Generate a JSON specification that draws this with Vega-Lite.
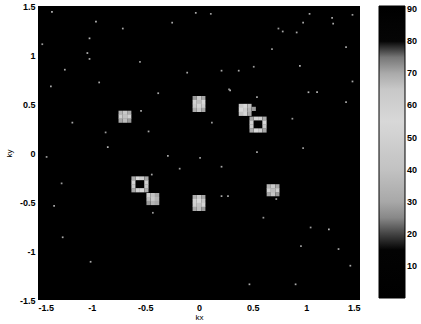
{
  "$schema": "https://vega.github.io/schema/vega-lite/v6.json",
  "width": 322,
  "height": 294,
  "autosize": {"type": "none"},
  "padding": {"left": 38, "top": 6, "right": 61, "bottom": 24},
  "background": "white",
  "config": {
    "view": {"fill": "black", "stroke": null},
    "locale": {"number": {"decimal": ".", "thousands": ",", "grouping": [3], "currency": ["$", ""], "minus": "-"}},
    "axis": {"grid": false, "ticks": false, "domain": false, "labelFont": "Liberation Sans", "labelFontWeight": "bold", "labelFontSize": 9, "labelColor": "black", "titleFont": "Liberation Sans", "titleFontSize": 8, "titleFontWeight": "normal", "titleColor": "black"},
    "legend": {"labelFont": "Liberation Sans", "labelFontWeight": "bold", "labelFontSize": 9, "labelColor": "black"}
  },
  "datasets": {
    "peaks": [
      {"x": -0.04, "y": 0.56, "v": 28}, {"x": 0, "y": 0.56, "v": 45}, {"x": 0.04, "y": 0.56, "v": 30},
      {"x": -0.04, "y": 0.52, "v": 50}, {"x": 0, "y": 0.52, "v": 38}, {"x": 0.04, "y": 0.52, "v": 55},
      {"x": -0.04, "y": 0.48, "v": 45}, {"x": 0, "y": 0.48, "v": 52}, {"x": 0.04, "y": 0.48, "v": 48},
      {"x": -0.04, "y": 0.44, "v": 32}, {"x": 0, "y": 0.44, "v": 42}, {"x": 0.04, "y": 0.44, "v": 30},
      {"x": -0.73, "y": 0.41, "v": 35}, {"x": -0.69, "y": 0.41, "v": 45}, {"x": -0.65, "y": 0.41, "v": 32},
      {"x": -0.73, "y": 0.37, "v": 48}, {"x": -0.69, "y": 0.37, "v": 40}, {"x": -0.65, "y": 0.37, "v": 50},
      {"x": -0.73, "y": 0.33, "v": 30}, {"x": -0.69, "y": 0.33, "v": 38}, {"x": -0.65, "y": 0.33, "v": 28},
      {"x": 0.39, "y": 0.48, "v": 45}, {"x": 0.43, "y": 0.48, "v": 55}, {"x": 0.47, "y": 0.48, "v": 40},
      {"x": 0.39, "y": 0.44, "v": 55}, {"x": 0.43, "y": 0.44, "v": 48}, {"x": 0.47, "y": 0.44, "v": 35},
      {"x": 0.39, "y": 0.40, "v": 40}, {"x": 0.43, "y": 0.40, "v": 52}, {"x": 0.47, "y": 0.40, "v": 30},
      {"x": 0.51, "y": 0.45, "v": 28},
      {"x": 0.49, "y": 0.35, "v": 30}, {"x": 0.49, "y": 0.31, "v": 50}, {"x": 0.49, "y": 0.27, "v": 48}, {"x": 0.49, "y": 0.23, "v": 32},
      {"x": 0.53, "y": 0.35, "v": 52}, {"x": 0.53, "y": 0.31, "v": 86}, {"x": 0.53, "y": 0.27, "v": 84}, {"x": 0.53, "y": 0.23, "v": 55},
      {"x": 0.57, "y": 0.35, "v": 50}, {"x": 0.57, "y": 0.31, "v": 85}, {"x": 0.57, "y": 0.27, "v": 87}, {"x": 0.57, "y": 0.23, "v": 48},
      {"x": 0.61, "y": 0.35, "v": 32}, {"x": 0.61, "y": 0.31, "v": 55}, {"x": 0.61, "y": 0.27, "v": 45}, {"x": 0.61, "y": 0.23, "v": 30},
      {"x": -0.61, "y": -0.26, "v": 32}, {"x": -0.61, "y": -0.30, "v": 52}, {"x": -0.61, "y": -0.34, "v": 46}, {"x": -0.61, "y": -0.38, "v": 30},
      {"x": -0.57, "y": -0.26, "v": 55}, {"x": -0.57, "y": -0.30, "v": 86}, {"x": -0.57, "y": -0.34, "v": 85}, {"x": -0.57, "y": -0.38, "v": 50},
      {"x": -0.53, "y": -0.26, "v": 48}, {"x": -0.53, "y": -0.30, "v": 87}, {"x": -0.53, "y": -0.34, "v": 84}, {"x": -0.53, "y": -0.38, "v": 55},
      {"x": -0.49, "y": -0.26, "v": 30}, {"x": -0.49, "y": -0.30, "v": 50}, {"x": -0.49, "y": -0.34, "v": 45}, {"x": -0.49, "y": -0.38, "v": 32},
      {"x": -0.47, "y": -0.43, "v": 60}, {"x": -0.43, "y": -0.43, "v": 40}, {"x": -0.39, "y": -0.43, "v": 30},
      {"x": -0.47, "y": -0.47, "v": 38}, {"x": -0.43, "y": -0.47, "v": 45}, {"x": -0.39, "y": -0.47, "v": 35},
      {"x": -0.47, "y": -0.51, "v": 28}, {"x": -0.43, "y": -0.51, "v": 35}, {"x": -0.39, "y": -0.51, "v": 30},
      {"x": -0.04, "y": -0.45, "v": 32}, {"x": 0, "y": -0.45, "v": 45}, {"x": 0.04, "y": -0.45, "v": 30},
      {"x": -0.04, "y": -0.49, "v": 50}, {"x": 0, "y": -0.49, "v": 55}, {"x": 0.04, "y": -0.49, "v": 45},
      {"x": -0.04, "y": -0.53, "v": 48}, {"x": 0, "y": -0.53, "v": 40}, {"x": 0.04, "y": -0.53, "v": 52},
      {"x": -0.04, "y": -0.57, "v": 30}, {"x": 0, "y": -0.57, "v": 38}, {"x": 0.04, "y": -0.57, "v": 28},
      {"x": 0.65, "y": -0.34, "v": 35}, {"x": 0.69, "y": -0.34, "v": 45}, {"x": 0.73, "y": -0.34, "v": 30},
      {"x": 0.65, "y": -0.38, "v": 50}, {"x": 0.69, "y": -0.38, "v": 38}, {"x": 0.73, "y": -0.38, "v": 48},
      {"x": 0.65, "y": -0.42, "v": 30}, {"x": 0.69, "y": -0.42, "v": 42}, {"x": 0.73, "y": -0.42, "v": 28}
    ],
    "noise": [
      {"x": -1.37, "y": 1.44, "v": 35}, {"x": -0.96, "y": 1.34, "v": 35}, {"x": -0.71, "y": 1.27, "v": 30}, {"x": -1.02, "y": 1.17, "v": 35},
      {"x": -1.46, "y": 1.11, "v": 28}, {"x": -1.04, "y": 1.02, "v": 35}, {"x": -1.02, "y": 0.96, "v": 30}, {"x": -1.25, "y": 0.85, "v": 30},
      {"x": -0.93, "y": 0.72, "v": 30}, {"x": -1.38, "y": 0.68, "v": 30}, {"x": -1.27, "y": -0.86, "v": 30}, {"x": -1.01, "y": -1.11, "v": 30},
      {"x": 1.41, "y": -1.15, "v": 30}, {"x": 0.47, "y": -1.34, "v": 30}, {"x": 0.90, "y": -1.34, "v": 30},
      {"x": -0.38, "y": 0.61, "v": 30}, {"x": 0.29, "y": 0.64, "v": 35}, {"x": 0.54, "y": 0.57, "v": 30}, {"x": -0.54, "y": 0.43, "v": 30},
      {"x": -0.87, "y": 0.21, "v": 28}, {"x": -0.47, "y": 0.22, "v": 30}, {"x": -0.85, "y": 0.06, "v": 35}, {"x": 0.12, "y": 0.31, "v": 28},
      {"x": 0.87, "y": 0.35, "v": 28}, {"x": -0.29, "y": -0.03, "v": 30}, {"x": 0.01, "y": -0.05, "v": 28}, {"x": -0.18, "y": -0.16, "v": 28},
      {"x": 0.21, "y": -0.14, "v": 30}, {"x": 0.54, "y": 0.01, "v": 30}, {"x": 0.21, "y": -0.44, "v": 30}, {"x": 0.27, "y": -0.44, "v": 30},
      {"x": -0.44, "y": -0.22, "v": 30}, {"x": -0.43, "y": -0.61, "v": 28}, {"x": 0.60, "y": -0.66, "v": 28}, {"x": 0.72, "y": -0.47, "v": 28},
      {"x": -0.03, "y": 1.43, "v": 30}, {"x": 0.11, "y": 1.42, "v": 28}, {"x": -0.25, "y": 1.33, "v": 30}, {"x": 1.03, "y": 1.42, "v": 30},
      {"x": 1.24, "y": 1.38, "v": 30}, {"x": 1.25, "y": 1.32, "v": 30}, {"x": 0.97, "y": 1.33, "v": 30}, {"x": 1.43, "y": 1.41, "v": 28},
      {"x": 0.74, "y": 1.27, "v": 28}, {"x": 0.78, "y": 1.24, "v": 30}, {"x": 0.91, "y": 1.23, "v": 30}, {"x": 0.68, "y": 1.06, "v": 28},
      {"x": 1.37, "y": 1.08, "v": 30}, {"x": -0.55, "y": 0.93, "v": 28}, {"x": -0.11, "y": 0.82, "v": 30}, {"x": 0.21, "y": 0.84, "v": 30},
      {"x": 0.37, "y": 0.84, "v": 30}, {"x": 0.51, "y": 0.88, "v": 28}, {"x": 0.94, "y": 0.89, "v": 35}, {"x": 1.43, "y": 0.73, "v": 30},
      {"x": 0.28, "y": 0.65, "v": 28}, {"x": 1.02, "y": 0.62, "v": 35}, {"x": 1.10, "y": 0.62, "v": 35}, {"x": 1.37, "y": 0.52, "v": 30},
      {"x": 0.97, "y": 0.05, "v": 28}, {"x": 1.04, "y": -0.76, "v": 28}, {"x": 1.21, "y": -0.78, "v": 35}, {"x": 0.95, "y": -0.95, "v": 28},
      {"x": 1.30, "y": -0.98, "v": 30}, {"x": -1.18, "y": 0.31, "v": 30}, {"x": -1.42, "y": -0.04, "v": 28}, {"x": -1.28, "y": -0.31, "v": 28},
      {"x": -1.35, "y": -0.54, "v": 30}
    ]
  },
  "layer": [
    {
      "data": {"name": "peaks"},
      "mark": {"type": "square", "size": 18, "opacity": 1, "filled": true},
      "encoding": {
        "x": {"field": "x", "type": "quantitative", "scale": {"domain": [-1.5, 1.5], "nice": false, "zero": false}, "axis": {"values": [-1.5, -1, -0.5, 0, 0.5, 1, 1.5], "format": "~g", "labelPadding": 3, "title": "kx", "titlePadding": 1}},
        "y": {"field": "y", "type": "quantitative", "scale": {"domain": [-1.5, 1.5], "nice": false, "zero": false}, "axis": {"values": [-1.5, -1, -0.5, 0, 0.5, 1, 1.5], "format": "~g", "labelPadding": 3, "title": "ky", "titlePadding": 6}},
        "color": {
          "field": "v", "type": "quantitative",
          "scale": {"type": "linear", "domain": [0, 15, 20, 25, 30, 40, 55, 65, 70, 75, 80, 91], "range": ["#000000", "#030303", "#444444", "#888888", "#a8a8a8", "#c2c2c2", "#d8d8d8", "#c8c8c8", "#aaaaaa", "#777777", "#050505", "#000000"]},
          "legend": {"title": null, "orient": "right", "offset": 19, "gradientLength": 292, "gradientThickness": 26, "gradientStrokeColor": "black", "gradientStrokeWidth": 1, "values": [10, 20, 30, 40, 50, 60, 70, 80, 90], "labelOverlap": false, "labelOffset": 2, "padding": 0}
        }
      }
    },
    {
      "data": {"name": "noise"},
      "mark": {"type": "square", "size": 3, "opacity": 1, "filled": true},
      "encoding": {
        "x": {"field": "x", "type": "quantitative"},
        "y": {"field": "y", "type": "quantitative"},
        "color": {"field": "v", "type": "quantitative"}
      }
    }
  ]
}
